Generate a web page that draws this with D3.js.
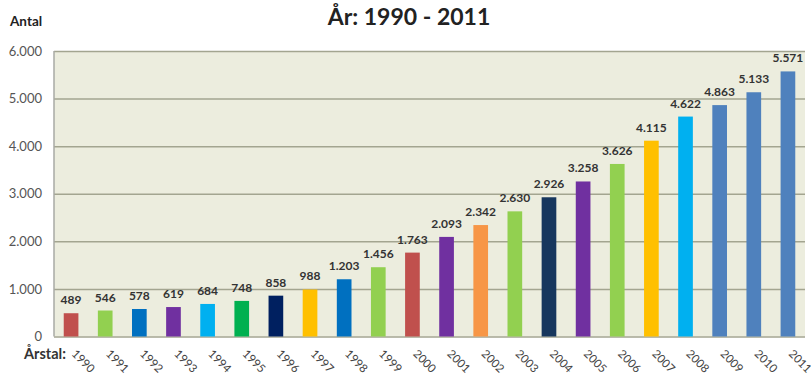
<!DOCTYPE html>
<html>
<head>
<meta charset="utf-8">
<script src="https://cdn.jsdelivr.net/npm/d3@7/dist/d3.min.js"></script>
<style>
  html, body { margin: 0; padding: 0; background: #ffffff; }
  svg { display: block; font-family: Lato, "Open Sans", sans-serif; }
</style>
</head>
<body>
<svg id="chart" width="811" height="378"></svg>
<script>
// Antal per år, 1990–2011
const years = ["1990","1991","1992","1993","1994","1995","1996","1997","1998","1999","2000",
               "2001","2002","2003","2004","2005","2006","2007","2008","2009","2010","2011"];
const counts = [489, 546, 578, 619, 684, 748, 858, 988, 1203, 1456, 1763,
                2093, 2342, 2630, 2926, 3258, 3626, 4115, 4622, 4863, 5133, 5571];
const barColors = ["#c0504d","#92d050","#0070c0","#7030a0","#00b0f0","#00b050","#002060","#ffc000","#0070c0","#92d050","#c0504d",
                   "#7030a0","#f79646","#92d050","#17375e","#7030a0","#92d050","#ffc000","#00b0f0","#4f81bd","#4f81bd","#4f81bd"];
const yTicks = [0, 1000, 2000, 3000, 4000, 5000, 6000];

const svg = d3.select("#chart");
const plot = { left: 54, right: 805, top: 51, bottom: 336.5 };

const x = d3.scaleBand().domain(years).range([plot.left, plot.right]).paddingInner(0.57).paddingOuter(0.285);
const y = d3.scaleLinear().domain([0, 6000]).range([plot.bottom, plot.top]);

// Thousands separator is a dot
const fmt = d3.formatLocale({ decimal: ",", thousands: ".", grouping: [3], currency: ["", " kr"] }).format(",d");

// Plot background
svg.append("rect")
  .attr("x", plot.left).attr("y", plot.top)
  .attr("width", plot.right - plot.left).attr("height", plot.bottom - plot.top)
  .attr("fill", "#ecedde");

// Gridlines + y labels
const yAxis = svg.append("g")
  .attr("transform", `translate(${plot.left},0)`)
  .call(d3.axisLeft(y).tickValues(yTicks).tickSize(-(plot.right - plot.left)).tickPadding(12).tickFormat(fmt));
yAxis.select(".domain").remove();
yAxis.selectAll(".tick line").attr("stroke", "#a3a590").attr("stroke-width", 1.5);
yAxis.selectAll(".tick text").attr("fill", "#555555").attr("font-size", 13).attr("font-family", "Lato, sans-serif");

// Left axis line
svg.append("line")
  .attr("x1", plot.left).attr("x2", plot.left)
  .attr("y1", plot.top).attr("y2", plot.bottom)
  .attr("stroke", "#a9aaa4").attr("stroke-width", 1.5);

// Bars
svg.append("g").selectAll("rect")
  .data(counts)
  .join("rect")
  .attr("x", (d, i) => x(years[i]))
  .attr("y", d => y(d))
  .attr("width", x.bandwidth())
  .attr("height", d => y(0) - y(d))
  .attr("fill", (d, i) => barColors[i]);

// Value labels
svg.append("g").selectAll("text")
  .data(counts)
  .join("text")
  .attr("x", (d, i) => x(years[i]) + x.bandwidth() / 2)
  .attr("y", d => y(d) - 9)
  .attr("text-anchor", "middle")
  .attr("font-size", 12)
  .attr("font-weight", "bold")
  .attr("fill", "#333333")
  .text(d => fmt(d));

// X tick labels, rotated
const xAxis = svg.append("g")
  .attr("transform", `translate(0,${plot.bottom})`)
  .call(d3.axisBottom(x).tickSize(0).tickPadding(0));
xAxis.select(".domain").remove();
xAxis.selectAll(".tick text")
  .attr("font-size", 11.5)
  .attr("font-family", "Lato, sans-serif")
  .attr("fill", "#444444")
  .attr("text-anchor", "start")
  .attr("dy", 0)
  .attr("transform", "translate(0,18) rotate(45)");

// Axis titles
svg.append("text").attr("x", 10).attr("y", 26)
  .attr("font-size", 13.5).attr("font-weight", "bold").attr("fill", "#222222")
  .text("Antal");
svg.append("text").attr("x", 24).attr("y", 359)
  .attr("font-size", 14.5).attr("font-weight", "bold").attr("fill", "#333333")
  .text("Årstal:");

// Title
svg.append("text").attr("x", 409).attr("y", 25)
  .attr("text-anchor", "middle")
  .attr("font-size", 23).attr("font-weight", "bold").attr("fill", "#222222")
  .text("År: 1990 - 2011");
</script>
</body>
</html>
